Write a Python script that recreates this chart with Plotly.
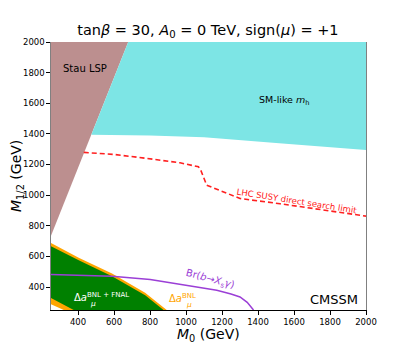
import plotly.graph_objects as go

# ---- data (GeV) ----
stau_m0 = [250, 679, 250]
stau_m12 = [735, 2000, 2000]

mh_m0 = [474, 679, 2000, 2000, 1500, 1100, 800, 474]
mh_m12 = [1395, 2000, 2000, 1295, 1340, 1378, 1390, 1395]

bnl_m0 = [250, 404, 589, 773, 893, 321, 250]
bnl_m12 = [687, 592, 488, 362, 250, 250, 288]

fnal_m0 = [250, 404, 589, 773, 875, 376, 250]
fnal_m12 = [667, 575, 471, 346, 250, 250, 329]

lhc_m0 = [432, 598, 783, 967, 1069, 1082, 1115, 1180, 1300, 1522, 2000]
lhc_m12 = [1279, 1266, 1240, 1211, 1185, 1163, 1065, 1033, 978, 944, 863]

bsg_m0 = [250, 589, 801, 930, 1081, 1171, 1250, 1300, 1340, 1360, 1375]
bsg_m12 = [482, 471, 449, 425, 400, 379, 355, 335, 300, 275, 250]

ticks = [400, 600, 800, 1000, 1200, 1400, 1600, 1800, 2000]

FONT = "DejaVu Sans"

fig = go.Figure()
fig.add_trace(go.Scatter(x=stau_m0, y=stau_m12, fill="toself", fillcolor="#bc8f8f",
                         line=dict(width=0), mode="lines", hoverinfo="skip"))
fig.add_trace(go.Scatter(x=mh_m0, y=mh_m12, fill="toself", fillcolor="#7de5e5",
                         line=dict(width=0), mode="lines", hoverinfo="skip"))
fig.add_trace(go.Scatter(x=bnl_m0, y=bnl_m12, fill="toself", fillcolor="#ffa500",
                         line=dict(width=0), mode="lines", hoverinfo="skip"))
fig.add_trace(go.Scatter(x=fnal_m0, y=fnal_m12, fill="toself", fillcolor="#008000",
                         line=dict(width=0), mode="lines", hoverinfo="skip"))
fig.add_trace(go.Scatter(x=lhc_m0, y=lhc_m12, mode="lines",
                         line=dict(color="#ff2020", width=1.6, dash="5px,3px"), hoverinfo="skip"))
fig.add_trace(go.Scatter(x=bsg_m0, y=bsg_m12, mode="lines",
                         line=dict(color="#9b3fd6", width=1.5), hoverinfo="skip"))

ann = [
    dict(x=303, y=1824, text="Stau LSP", xanchor="left", font=dict(size=10, color="black")),
    dict(x=1543, y=1621, text="SM-like <i>m</i><sub>h</sub>", font=dict(size=9.5, color="black")),
    dict(x=1965, y=320, text="CMSSM", xanchor="right", font=dict(size=13, color="black")),
    dict(x=364, y=333, text="Δ<i>a</i><sup>BNL + FNAL</sup>", xanchor="left", font=dict(size=10, color="white")),
    dict(x=458, y=292, text="<i>μ</i>", xanchor="left", font=dict(size=7.5, color="white")),
    dict(x=895, y=327, text="Δ<i>a</i><sup>BNL</sup>", xanchor="left", font=dict(size=10, color="#ffa500")),
    dict(x=988, y=286, text="<i>μ</i>", xanchor="left", font=dict(size=7.5, color="#ffa500")),
    dict(x=1134, y=448, text="Br(<i>b</i>→<i>X</i><sub>s</sub><i>γ</i>)", textangle=15,
         font=dict(size=10, color="#9b3fd6")),
    dict(x=1616, y=963, text="LHC SUSY direct search limit", textangle=9,
         font=dict(size=8.5, color="#ff2020")),
]
for a in ann:
    a.update(showarrow=False, xref="x", yref="y")
    fig.add_annotation(**a)

# axis titles
fig.add_annotation(x=0.5, y=0, xref="paper", yref="paper", yshift=-25, yanchor="middle",
                   text="<i>M</i><sub>0</sub> (GeV)", showarrow=False, font=dict(size=14))
fig.add_annotation(x=0, y=0.5, xref="paper", yref="paper", xshift=-34, xanchor="center",
                   textangle=-90, text="<i>M</i><sub>1/2</sub> (GeV)", showarrow=False,
                   font=dict(size=14))

fig.update_layout(
    width=399, height=341,
    margin=dict(l=42.5, r=41, t=34, b=39),
    paper_bgcolor="white", plot_bgcolor="white",
    showlegend=False,
    font=dict(family=FONT, color="black"),
    title=dict(text="tan<i>β</i> = 30, <i>A</i><sub>0</sub> = 0 TeV, sign(<i>μ</i>) = +1",
               x=0.501, xanchor="center", y=0.9355, yanchor="middle",
               font=dict(size=14.5, family=FONT)),
    xaxis=dict(range=[250, 2000], tickvals=ticks, showgrid=False, zeroline=False, automargin=False,
               showline=True, linecolor="black", linewidth=1, ticks="outside", ticklen=3.5,
               tickcolor="black", tickfont=dict(size=8.5)),
    yaxis=dict(range=[250, 2000], tickvals=ticks, showgrid=False, zeroline=False, automargin=False,
               showline=True, linecolor="#808080", linewidth=1.2, mirror=True, ticks="outside",
               ticklen=3.5, tickcolor="black", tickfont=dict(size=8.5)),
)

fig.write_html("out.html")
